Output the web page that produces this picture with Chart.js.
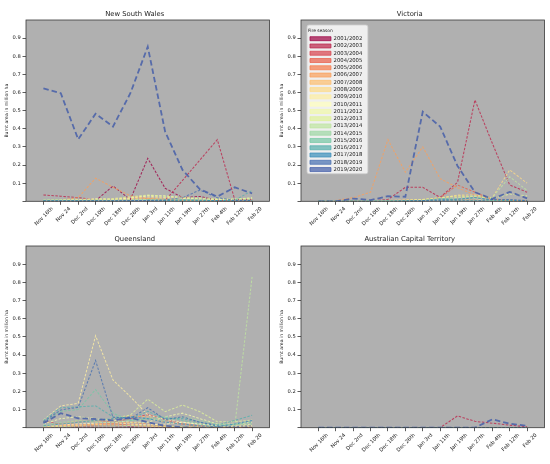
<!DOCTYPE html>
<html><head><meta charset="utf-8">
<script src="https://cdn.jsdelivr.net/npm/chart.js@4/dist/chart.umd.min.js"></script>
<style>
html,body{margin:0;padding:0;background:#fff;}
#wrap{position:relative;width:550px;height:464px;overflow:hidden;}
.p{position:absolute;width:275px;height:232px;}
</style></head><body>
<div id="wrap">
<div class="p" style="left:0;top:0"><canvas id="c0" width="275" height="232"></canvas></div>
<div class="p" style="left:275px;top:0"><canvas id="c1" width="275" height="232"></canvas></div>
<div class="p" style="left:0;top:232px"><canvas id="c2" width="275" height="232"></canvas></div>
<div class="p" style="left:275px;top:232px"><canvas id="c3" width="275" height="232"></canvas></div>
</div>
<script>
const categories = ['Nov 16th','Nov 24','Dec 2nd','Dec 10th','Dec 18th','Dec 26th','Jan 3rd','Jan 11th','Jan 19th','Jan 27th','Feb 4th','Feb 12th','Feb 20'];
const seasons = ['2001/2002','2002/2003','2003/2004','2004/2005','2005/2006','2006/2007','2007/2008','2008/2009','2009/2010','2010/2011','2011/2012','2012/2013','2013/2014','2014/2015','2015/2016','2016/2017','2017/2018','2018/2019','2019/2020'];
const yTickValues = [0.1,0.2,0.3,0.4,0.5,0.6,0.7,0.8,0.9];
const stateTitles = ['New South Wales','Victoria','Queensland','Australian Capital Territory'];

// values in million ha, one row per fire season, columns = categories
const nswValues = [
  [0,0,0,0.003,0.084,0.01,0.237,0.072,0.02,0.027,0.005,0,0],
  [0.035,0.028,0.02,0.008,0.004,0.002,0.002,0.004,0.115,0.228,0.34,0.01,0.01],
  [0.002,0.002,0.003,0.002,0.002,0.004,0.006,0.004,0.003,0.002,0.001,0,0],
  [0.004,0.003,0.002,0.002,0.003,0.005,0.004,0.003,0.002,0.001,0.001,0.001,0],
  [0.003,0.004,0.006,0.008,0.012,0.02,0.015,0.01,0.006,0.004,0.003,0.002,0.001],
  [0.004,0.008,0.02,0.127,0.078,0.03,0.015,0.01,0.005,0.003,0.002,0.001,0.001],
  [0.002,0.003,0.004,0.006,0.008,0.01,0.012,0.01,0.008,0.005,0.004,0.003,0.002],
  [0.003,0.004,0.005,0.006,0.01,0.015,0.02,0.018,0.015,0.01,0.008,0.012,0.015],
  [0.006,0.008,0.01,0.015,0.012,0.02,0.028,0.022,0.015,0.012,0.01,0.008,0.006],
  [0.002,0.002,0.003,0.003,0.004,0.006,0.01,0.008,0.006,0.004,0.003,0.004,0.005],
  [0.003,0.004,0.005,0.008,0.01,0.018,0.032,0.03,0.02,0.012,0.008,0.01,0.02],
  [0.004,0.005,0.006,0.01,0.015,0.025,0.035,0.028,0.022,0.018,0.014,0.012,0.018],
  [0.008,0.01,0.008,0.006,0.005,0.006,0.01,0.012,0.01,0.008,0.006,0.008,0.01],
  [0.002,0.003,0.004,0.005,0.006,0.008,0.01,0.008,0.006,0.004,0.003,0.002,0.002],
  [0.006,0.005,0.004,0.003,0.003,0.004,0.005,0.004,0.003,0.003,0.002,0.002,0.003],
  [0.003,0.003,0.002,0.002,0.002,0.003,0.005,0.006,0.008,0.006,0.004,0.005,0.06],
  [0.002,0.002,0.002,0.002,0.002,0.002,0.003,0.004,0.006,0.006,0.004,0.003,0.004],
  [0.002,0.002,0.002,0.003,0.003,0.004,0.005,0.008,0.02,0.062,0.02,0.005,0.005],
  [0.623,0.596,0.342,0.483,0.412,0.596,0.853,0.384,0.173,0.066,0.026,0.077,0.044]
];
const vicValues = [
  [0,0,0,0,0,0,0.002,0.005,0.01,0.005,0,0,0],
  [0,0,0,0.002,0.01,0.077,0.077,0.022,0.105,0.559,0.32,0.09,0.05],
  [0,0,0,0,0.001,0.002,0.003,0.004,0.003,0.002,0.001,0,0],
  [0,0,0,0,0.002,0.003,0.005,0.02,0.09,0.05,0.01,0.003,0.002],
  [0,0,0,0.001,0.002,0.003,0.004,0.006,0.008,0.006,0.004,0.002,0.001],
  [0,0.005,0.02,0.05,0.34,0.16,0.3,0.125,0.075,0.035,0.01,0.005,0.003],
  [0,0,0.002,0.003,0.005,0.008,0.01,0.02,0.03,0.025,0.01,0.005,0.003],
  [0,0,0.002,0.003,0.004,0.006,0.01,0.015,0.035,0.035,0.02,0.173,0.1],
  [0,0,0,0.002,0.003,0.004,0.006,0.01,0.02,0.015,0.008,0.004,0.002],
  [0,0,0,0,0.001,0.002,0.003,0.005,0.006,0.004,0.003,0.002,0.001],
  [0,0,0,0.001,0.002,0.003,0.004,0.006,0.008,0.006,0.004,0.003,0.002],
  [0,0,0,0.002,0.003,0.005,0.01,0.02,0.03,0.025,0.015,0.04,0.03],
  [0,0,0,0.001,0.002,0.003,0.005,0.01,0.02,0.03,0.02,0.135,0.06],
  [0,0,0,0,0.001,0.002,0.003,0.004,0.005,0.004,0.003,0.002,0.001],
  [0,0,0,0,0.001,0.002,0.003,0.005,0.006,0.005,0.003,0.002,0.001],
  [0,0,0,0,0,0.002,0.003,0.015,0.01,0.02,0.005,0.003,0.002],
  [0,0,0,0,0,0.002,0.004,0.01,0.012,0.02,0.01,0.006,0.003],
  [0,0,0,0,0,0,0.002,0.004,0.003,0.002,0.01,0.01,0.004],
  [0,0,0.015,0.007,0.028,0.025,0.494,0.412,0.195,0.05,0.013,0.052,0.016]
];
const qldValues = [
  [0.005,0.004,0.003,0.002,0.002,0.002,0.001,0,0,0,0,0,0],
  [0.01,0.008,0.006,0.01,0.012,0.01,0.008,0.005,0.003,0.002,0,0,0],
  [0.035,0.02,0.015,0.02,0.03,0.05,0.072,0.045,0.02,0.01,0.003,0.002,0.001],
  [0.004,0.006,0.01,0.015,0.02,0.015,0.01,0.006,0.004,0.003,0.002,0.001,0.001],
  [0.008,0.012,0.03,0.04,0.03,0.02,0.012,0.006,0.003,0.002,0.001,0.001,0.001],
  [0.006,0.01,0.015,0.02,0.025,0.03,0.02,0.01,0.005,0.003,0.002,0.002,0.002],
  [0.01,0.02,0.04,0.03,0.05,0.065,0.06,0.03,0.02,0.01,0.005,0.01,0.01],
  [0.004,0.008,0.012,0.018,0.015,0.012,0.008,0.005,0.004,0.003,0.003,0.004,0.006],
  [0.042,0.12,0.134,0.506,0.263,0.171,0.07,0.045,0.03,0.02,0.012,0.01,0.02],
  [0.01,0.015,0.02,0.025,0.03,0.02,0.015,0.02,0.03,0.02,0.01,0.008,0.01],
  [0.02,0.05,0.06,0.05,0.04,0.03,0.03,0.06,0.08,0.05,0.02,0.02,0.03],
  [0.01,0.02,0.03,0.04,0.05,0.07,0.157,0.088,0.125,0.088,0.033,0.033,0.042],
  [0.005,0.006,0.008,0.01,0.01,0.012,0.01,0.008,0.006,0.005,0.004,0.005,0.83],
  [0.015,0.03,0.04,0.03,0.03,0.04,0.05,0.04,0.06,0.04,0.02,0.015,0.02],
  [0.03,0.09,0.1,0.21,0.08,0.04,0.05,0.06,0.04,0.02,0.01,0.02,0.03],
  [0.04,0.11,0.115,0.12,0.06,0.05,0.09,0.05,0.05,0.03,0.015,0.04,0.068],
  [0.01,0.02,0.03,0.04,0.05,0.06,0.05,0.03,0.02,0.01,0.006,0.02,0.04],
  [0.033,0.098,0.112,0.37,0.057,0.05,0.11,0.045,0.06,0.03,0.01,0.008,0.01],
  [0.025,0.08,0.052,0.048,0.04,0.055,0.03,0.01,0.002,0,0,0,0]
];
const actValues = [
  [0,0,0,0,0,0,0,0,0,0,0,0,0],
  [0,0,0,0,0,0,0,0,0.065,0.035,0.025,0.014,0.005],
  [0,0,0,0,0,0,0,0,0,0,0,0,0],
  [0,0,0,0,0,0,0,0,0,0,0,0,0],
  [0,0,0,0,0,0,0,0,0,0,0,0,0],
  [0,0,0,0,0,0,0,0,0,0,0,0,0],
  [0,0,0,0,0,0,0,0,0,0,0,0,0],
  [0,0,0,0,0,0,0,0,0,0,0,0,0],
  [0,0,0,0,0,0,0,0,0,0,0,0,0],
  [0,0,0,0,0,0,0,0,0,0,0,0,0],
  [0,0,0,0,0,0,0,0,0,0,0,0,0],
  [0,0,0,0,0,0,0,0,0,0,0,0,0],
  [0,0,0,0,0,0,0,0,0,0,0,0,0],
  [0,0,0,0,0,0,0,0,0,0,0,0,0],
  [0,0,0,0,0,0,0,0,0,0,0,0,0],
  [0,0,0,0,0,0,0,0,0,0,0,0,0],
  [0,0,0,0,0,0,0,0,0,0,0,0,0],
  [0,0,0,0,0,0,0,0,0,0,0,0,0],
  [0,0,0,0,0,0,0,0,0,0,0.046,0.022,0.01]
];

// style: Spectral-like palette
const palette = [[158,1,66],[188,35,73],[217,67,78],[234,93,71],[246,123,74],[251,159,90],[253,191,111],[254,218,134],[254,238,162],[255,255,191],[241,249,169],[223,242,153],[191,229,160],[156,215,164],[117,200,165],[85,175,173],[56,142,186],[70,111,177],[66,92,168]];
const rgba = (i,a) => `rgba(${palette[i][0]},${palette[i][1]},${palette[i][2]},${a})`;

const FONT = 'DejaVu Sans';
Chart.defaults.font.family = FONT;
Chart.defaults.color = '#222';

const panelPlugin = {
  id: 'panel',
  afterLayout(chart) {
    const lg = chart.legend;
    if (lg && lg.options.display) {
      lg.left = chart.chartArea.left + 7;
      lg.top = chart.chartArea.top + 5;
    }
  },
  beforeDraw(chart) {
    const {ctx, chartArea: a} = chart;
    ctx.save();
    ctx.fillStyle = '#b0b0b0';
    ctx.fillRect(a.left, a.top, a.right - a.left, a.bottom - a.top);
    const lg = chart.legend;
    if (lg && lg.options.display && lg.legendHitBoxes && lg.legendHitBoxes.length) {
      let r = 0, b = 0;
      lg.legendHitBoxes.forEach(h => { r = Math.max(r, h.left + h.width); b = Math.max(b, h.top + h.height); });
      const x0 = lg.left - 1, y0 = lg.top, x1 = r + 5.5, y1 = b + 1.5, rad = 2;
      ctx.beginPath();
      ctx.roundRect(x0, y0, x1 - x0, y1 - y0, rad);
      ctx.fillStyle = 'rgba(255,255,255,0.8)';
      ctx.fill();
      ctx.strokeStyle = '#cfcfcf';
      ctx.lineWidth = 0.8;
      ctx.stroke();
    }
    ctx.restore();
  },
  afterDraw(chart) {
    const {ctx, chartArea: a} = chart;
    ctx.save();
    ctx.strokeStyle = '#3a3a3a';
    ctx.lineWidth = 0.8;
    ctx.strokeRect(a.left, a.top, a.right - a.left, a.bottom - a.top);
    ctx.restore();
  }
};

function makeChart(id, title, values, showLegend, top) {
  const datasets = values.map((row, i) => ({
    label: seasons[i],
    data: row.map((v, k) => ({x: k, y: v})),
    borderColor: rgba(i, i === 18 ? 0.82 : 0.78),
    backgroundColor: rgba(i, 0.7),
    borderWidth: i === 18 ? 1.8 : 1.05,
    borderDash: i === 18 ? [5.5, 3] : [2.5, 1.5],
    pointRadius: 0,
    fill: false,
    tension: 0,
    order: 18 - i
  }));
  return new Chart(document.getElementById(id), {
    type: 'line',
    data: {datasets},
    plugins: [panelPlugin],
    options: {
      responsive: false,
      animation: false,
      layout: {padding: {left: 0, right: 5.5, top: 0, bottom: 0}},
      plugins: {
        tooltip: {enabled: false},
        title: {
          display: true, text: title, color: '#222',
          font: {family: FONT, size: 6.8, weight: 'normal'},
          padding: top ? {top: 9.9, bottom: 1.94} : {top: 3.2, bottom: 2.64}
        },
        legend: {
          display: showLegend,
          position: 'chartArea',
          align: 'start',
          title: {display: true, text: 'Fire season', color: '#222', position: 'start',
                  font: {family: FONT, size: 4.4}, padding: {top: 3.8, bottom: 0}},
          labels: {
            boxWidth: 21, boxHeight: 4, padding: 1.97, color: '#222',
            font: {family: FONT, size: 5.3},
            generateLabels: (ch) => ch.data.datasets.map((ds, i) => ({
              text: ds.label, fillStyle: rgba(i, 0.7), strokeStyle: rgba(i, 1),
              lineWidth: 0.7, lineDash: [], hidden: false, datasetIndex: i, fontColor: '#222'
            }))
          }
        }
      },
      scales: {
        x: {
          type: 'linear', min: -1, max: 13,
          afterFit: (s) => { s.height = top ? 30.7 : 36.3; },
          afterBuildTicks: (s) => { s.ticks = categories.map((c, i) => ({value: i})); },
          border: {display: false},
          grid: {drawOnChartArea: false, drawTicks: true, tickLength: 3.5, color: '#333', lineWidth: 0.8},
          ticks: {
            autoSkip: false, minRotation: 45, maxRotation: 45, padding: 1, labelOffset: 9,
            color: '#222', font: {family: FONT, size: 5.2},
            callback: (v) => categories[v] !== undefined ? categories[v] : ''
          }
        },
        y: {
          min: 0, max: 1,
          afterFit: (s) => { s.width = 26; },
          afterBuildTicks: (s) => { s.ticks = [0].concat(yTickValues).map(v => ({value: v})); },
          border: {display: false},
          grid: {drawOnChartArea: false, drawTicks: true, tickLength: 3.5, color: '#333', lineWidth: 0.8},
          ticks: {
            padding: 1.8, color: '#222', font: {family: FONT, size: 5.2},
            callback: (v) => yTickValues.some(t => Math.abs(t - v) < 1e-9) ? v.toFixed(1) : ''
          },
          title: {display: true, text: 'Burnt area in million ha', color: '#222',
                  font: {family: FONT, size: 4.6}, padding: {top: 4.2, bottom: 0}}
        }
      }
    }
  });
}

makeChart('c0', stateTitles[0], nswValues, false, true);
makeChart('c1', stateTitles[1], vicValues, true, true);
makeChart('c2', stateTitles[2], qldValues, false, false);
makeChart('c3', stateTitles[3], actValues, false, false);
</script>
</body></html>
